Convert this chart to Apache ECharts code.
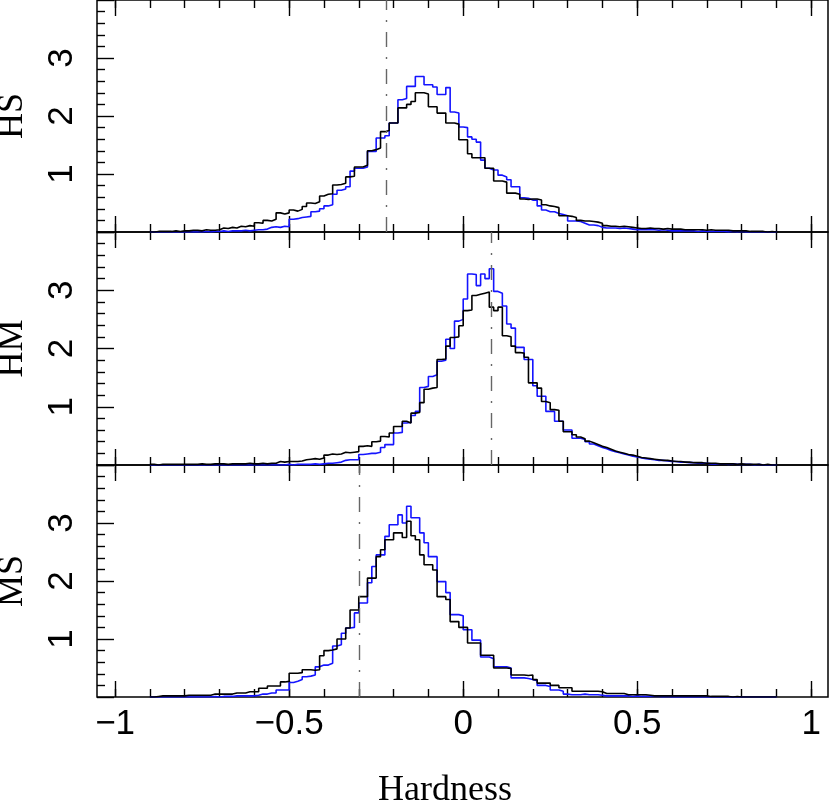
<!DOCTYPE html>
<html>
<head>
<meta charset="utf-8">
<script src="https://cdn.jsdelivr.net/npm/echarts@6/dist/echarts.min.js"></script>
<style>html,body{margin:0;padding:0;background:#fff}#c{width:830px;height:804px}</style>
</head>
<body>
<div id="c"></div>
<script>
// ---- data ----
const BIN_START = -0.9;
const BIN_WIDTH = 0.0125;
const panelNames = ['HS', 'HM', 'MS'];
const refLines = [-0.222, 0.081, -0.303];
const xMajorTicks = [-1, -0.5, 0, 0.5, 1];
const xMinorTicks = [-1, -0.9, -0.8, -0.7, -0.6, -0.5, -0.4, -0.3, -0.2, -0.1, 0, 0.1, 0.2, 0.3, 0.4, 0.5, 0.6, 0.7, 0.8, 0.9, 1];

const hsBlue = [
0,0,0,0,0,0,0,0,
0,0,0,0,0.01,0,0.01,0.01,
0.02,0.01,0.02,0.02,0.02,0.03,0.02,0.03,
0.04,0.04,0.05,0.08,0.09,0.08,0.10,0.09,
0.22,0.23,0.25,0.26,0.27,0.35,0.36,0.40,
0.45,0.47,0.65,0.72,0.74,0.78,1.05,1.10,
1.10,1.12,1.39,1.39,1.62,1.62,1.66,1.88,
1.88,2.28,2.30,2.51,2.51,2.68,2.68,2.54,
2.54,2.50,2.37,2.37,2.49,2.07,2.05,1.81,
1.80,1.64,1.60,1.55,1.24,1.10,1.07,1.07,
0.98,0.95,0.90,0.78,0.78,0.59,0.58,0.55,
0.55,0.45,0.38,0.35,0.35,0.32,0.30,0.28,
0.19,0.19,0.18,0.15,0.12,0.12,0.11,0.08,
0.07,0.07,0.07,0.06,0.07,0.06,0.05,0.04,
0.04,0.04,0.04,0.04,0.03,0.04,0.03,0.02,
0.02,0.02,0.02,0.02,0.02,0.01,0.02,0.01,
0.01,0.01,0.01,0.01,0,0.01,0,0.01,
0,0,0,0,0,0,0,0
];
const hsBlack = [
0,0.01,0.01,0.01,0.01,0.02,0.01,0.02,
0.02,0.03,0.03,0.02,0.04,0.03,0.03,0.04,
0.07,0.06,0.08,0.07,0.10,0.09,0.11,0.10,
0.16,0.15,0.20,0.19,0.22,0.33,0.31,0.33,
0.38,0.36,0.39,0.44,0.50,0.49,0.52,0.62,
0.65,0.66,0.81,0.82,0.84,0.95,0.96,1.12,
1.12,1.15,1.40,1.42,1.45,1.73,1.75,1.88,
1.88,2.14,2.14,2.20,2.25,2.40,2.40,2.38,
2.16,2.16,2.05,2.05,1.88,1.88,1.86,1.59,
1.59,1.35,1.28,1.28,1.28,1.10,1.10,0.88,
0.88,0.86,0.67,0.67,0.65,0.57,0.56,0.57,
0.57,0.55,0.47,0.45,0.44,0.42,0.28,0.28,
0.27,0.25,0.20,0.19,0.19,0.18,0.17,0.15,
0.11,0.10,0.10,0.09,0.10,0.09,0.08,0.07,
0.06,0.06,0.07,0.06,0.06,0.05,0.06,0.05,
0.05,0.05,0.04,0.04,0.04,0.04,0.04,0.03,
0.04,0.03,0.03,0.03,0.03,0.02,0.02,0.02,
0.02,0.01,0.01,0.01,0.01,0,0.01,0
];
const hmBlue = [
0,0,0,0,0,0,0,0,
0,0,0,0,0,0,0,0,
0,0,0,0,0,0,0,0,
0,0,0,0,0,0,0,0.01,
0,0.01,0.01,0.01,0.01,0.02,0.01,0.02,
0.03,0.03,0.04,0.05,0.08,0.09,0.09,0.09,
0.18,0.19,0.20,0.20,0.22,0.30,0.35,0.35,
0.55,0.56,0.72,0.73,0.85,0.92,1.33,1.35,
1.52,1.55,1.78,1.80,2.16,2.00,2.47,2.50,
2.85,3.28,3.27,3.08,3.28,3.20,3.37,2.98,
2.95,2.73,2.42,2.35,2.02,2.02,1.81,1.81,
1.36,1.18,1.18,0.92,0.92,0.75,0.75,0.60,
0.60,0.46,0.46,0.44,0.40,0.36,0.33,0.30,
0.28,0.25,0.23,0.21,0.19,0.17,0.15,0.14,
0.12,0.11,0.10,0.09,0.08,0.08,0.07,0.06,
0.06,0.05,0.05,0.04,0.04,0.03,0.03,0.03,
0.02,0.02,0.02,0.02,0.01,0.02,0.01,0.01,
0.01,0.01,0,0.01,0,0,0,0
];
const hmBlack = [
0.01,0,0.01,0.01,0.01,0.01,0.01,0.01,
0.01,0.01,0.01,0.02,0.01,0.01,0.02,0.02,
0.02,0.01,0.02,0.02,0.02,0.02,0.03,0.02,
0.02,0.03,0.02,0.03,0.03,0.06,0.05,0.06,
0.06,0.06,0.07,0.09,0.10,0.11,0.10,0.12,
0.17,0.19,0.18,0.19,0.22,0.21,0.22,0.23,
0.32,0.33,0.32,0.40,0.41,0.49,0.48,0.55,
0.66,0.66,0.75,0.72,0.89,0.90,1.07,1.30,
1.32,1.33,1.81,1.82,2.04,2.19,2.20,2.39,
2.65,2.66,2.91,2.93,2.95,2.97,2.71,2.65,
2.71,2.22,2.20,2.04,1.93,1.92,1.85,1.41,
1.41,1.32,1.09,1.07,0.95,0.94,0.75,0.57,
0.57,0.52,0.48,0.45,0.41,0.38,0.35,0.32,
0.30,0.27,0.24,0.22,0.20,0.18,0.17,0.15,
0.13,0.12,0.11,0.10,0.09,0.08,0.08,0.07,
0.06,0.06,0.05,0.05,0.04,0.04,0.04,0.03,
0.03,0.03,0.02,0.02,0.02,0.02,0.01,0.02,
0.01,0.01,0.01,0.01,0,0.01,0,0
];
const msBlue = [
0,0,0,0,0,0,0,0,
0,0,0,0,0,0,0.01,0,
0.01,0.01,0.01,0.02,0.02,0.02,0.02,0.02,
0.03,0.05,0.05,0.07,0.07,0.12,0.12,0.12,
0.25,0.27,0.30,0.35,0.36,0.38,0.52,0.55,
0.55,0.58,0.88,0.90,1.10,1.19,1.20,1.45,
1.62,1.62,1.97,2.25,2.45,2.45,2.77,2.97,
2.97,3.14,3.00,3.29,3.09,3.09,2.83,2.66,
2.42,2.42,1.99,1.99,1.80,1.42,1.42,1.40,
1.16,1.16,0.98,0.98,0.69,0.69,0.66,0.52,
0.52,0.52,0.50,0.33,0.33,0.33,0.32,0.30,
0.28,0.20,0.20,0.18,0.12,0.12,0.10,0.05,
0.04,0.04,0.04,0.05,0.04,0.04,0.04,0.03,
0.02,0.02,0.02,0.02,0.02,0.02,0.01,0.02,
0.01,0.01,0.01,0.01,0.01,0,0.01,0,
0,0,0,0,0,0,0,0,
0,0,0,0,0,0,0,0,
0,0,0,0,0,0,0,0
];
const msBlack = [
0,0.01,0.02,0.02,0.02,0.02,0.02,0.02,
0.03,0.03,0.03,0.03,0.03,0.03,0.05,0.05,
0.05,0.05,0.05,0.07,0.07,0.07,0.09,0.09,
0.09,0.15,0.15,0.19,0.19,0.19,0.26,0.27,
0.41,0.41,0.42,0.47,0.47,0.46,0.47,0.71,
0.80,0.81,0.83,1.00,1.00,1.19,1.50,1.50,
1.73,1.73,2.05,2.05,2.42,2.54,2.71,2.71,
2.83,2.83,2.75,3.03,2.78,2.71,2.45,2.28,
2.28,2.19,1.73,1.73,1.68,1.30,1.30,1.20,
1.20,0.93,0.93,0.93,0.72,0.72,0.72,0.50,
0.50,0.50,0.49,0.38,0.38,0.38,0.37,0.38,
0.30,0.24,0.24,0.24,0.20,0.20,0.16,0.16,
0.16,0.10,0.10,0.10,0.10,0.10,0.10,0.09,
0.06,0.06,0.06,0.06,0.06,0.04,0.04,0.04,
0.04,0.04,0.03,0.02,0.02,0.02,0.02,0.02,
0.02,0.02,0.02,0.02,0.02,0.02,0.02,0.02,
0.01,0.01,0.01,0.01,0.01,0,0.01,0,
0,0,0,0,0,0,0,0
];
const panelSeries = [[hsBlue, hsBlack], [hmBlue, hmBlack], [msBlue, msBlack]];

// ---- chart ----
const X_MIN = -1.052, X_MAX = 1.048;
const gridTops = [0, 232, 465];
const gridHeights = [232, 233, 232];
const SANS = 'Liberation Sans';
const SERIF = 'Liberation Serif';

function toPoints(arr) {
  const pts = arr.map((v, i) => [BIN_START + BIN_WIDTH * i, v]);
  pts.push([BIN_START + BIN_WIDTH * arr.length, arr[arr.length - 1]]);
  return pts;
}
function fmtX(v) { return (v < 0 ? '\u2212' : '') + Math.abs(v); }

const grids = [], xAxes = [], yAxes = [], series = [];
for (let g = 0; g < 3; g++) {
  grids.push({ left: 97, width: 731, top: gridTops[g], height: gridHeights[g],
    containLabel: false, outerBoundsMode: 'none',
    show: true, borderColor: '#000', borderWidth: 1.5, backgroundColor: 'transparent' });
  const mk = (pos, ticks, len, labels) => ({
    type: 'value', gridIndex: g, position: pos, min: X_MIN, max: X_MAX,
    axisLine: { show: false, onZero: false },
    axisTick: { show: true, inside: true, length: len, customValues: ticks, lineStyle: { color: '#000', width: 1.4 } },
    axisLabel: { show: labels, customValues: ticks, formatter: fmtX, margin: 10,
      fontFamily: SANS, fontSize: 35, color: '#000' },
    splitLine: { show: false }
  });
  xAxes.push(mk('bottom', xMajorTicks, 16, g === 2));
  xAxes.push(mk('bottom', xMinorTicks, 8, false));
  xAxes.push(mk('top', xMajorTicks, 16, false));
  xAxes.push(mk('top', xMinorTicks, 8, false));
  yAxes.push({
    type: 'value', gridIndex: g, position: 'left', min: 0, max: 4, interval: 1,
    name: panelNames[g], nameLocation: 'middle', nameGap: 66, nameRotate: 90,
    nameTextStyle: { fontFamily: SERIF, fontSize: 36, color: '#000' },
    axisLine: { show: false, onZero: false },
    axisTick: { show: true, inside: true, length: 17, lineStyle: { color: '#000', width: 1.4 } },
    minorTick: { show: true, splitNumber: 5, length: 8, lineStyle: { color: '#000', width: 1.4 } },
    axisLabel: { rotate: 90, margin: 17, fontFamily: SANS, fontSize: 35, color: '#000',
      formatter: v => (v === 0 || v === 4) ? '' : String(v) },
    splitLine: { show: false }
  });
  const [blue, black] = panelSeries[g];
  series.push({
    type: 'line', step: 'end', xAxisIndex: 4 * g, yAxisIndex: g, data: toPoints(blue),
    symbol: 'none', lineStyle: { color: '#1414ff', width: 1.6 }, z: 3
  });
  series.push({
    type: 'line', step: 'end', xAxisIndex: 4 * g, yAxisIndex: g, data: toPoints(black),
    symbol: 'none', lineStyle: { color: '#000', width: 1.6 }, z: 4,
    markLine: { silent: true, symbol: 'none', label: { show: false },
      lineStyle: { color: '#666', width: 1.4, type: [15, 10, 2, 10] },
      data: [{ xAxis: refLines[g] }] }
  });
}

const chart = echarts.init(document.getElementById('c'), null, { renderer: 'canvas' });
chart.setOption({
  animation: false,
  backgroundColor: '#fff',
  title: { text: 'Hardness', left: 378, top: 773, padding: 0,
    textStyle: { fontFamily: SERIF, fontSize: 36, fontWeight: 'normal', color: '#000' } },
  grid: grids, xAxis: xAxes, yAxis: yAxes, series: series
});
</script>
</body>
</html>
